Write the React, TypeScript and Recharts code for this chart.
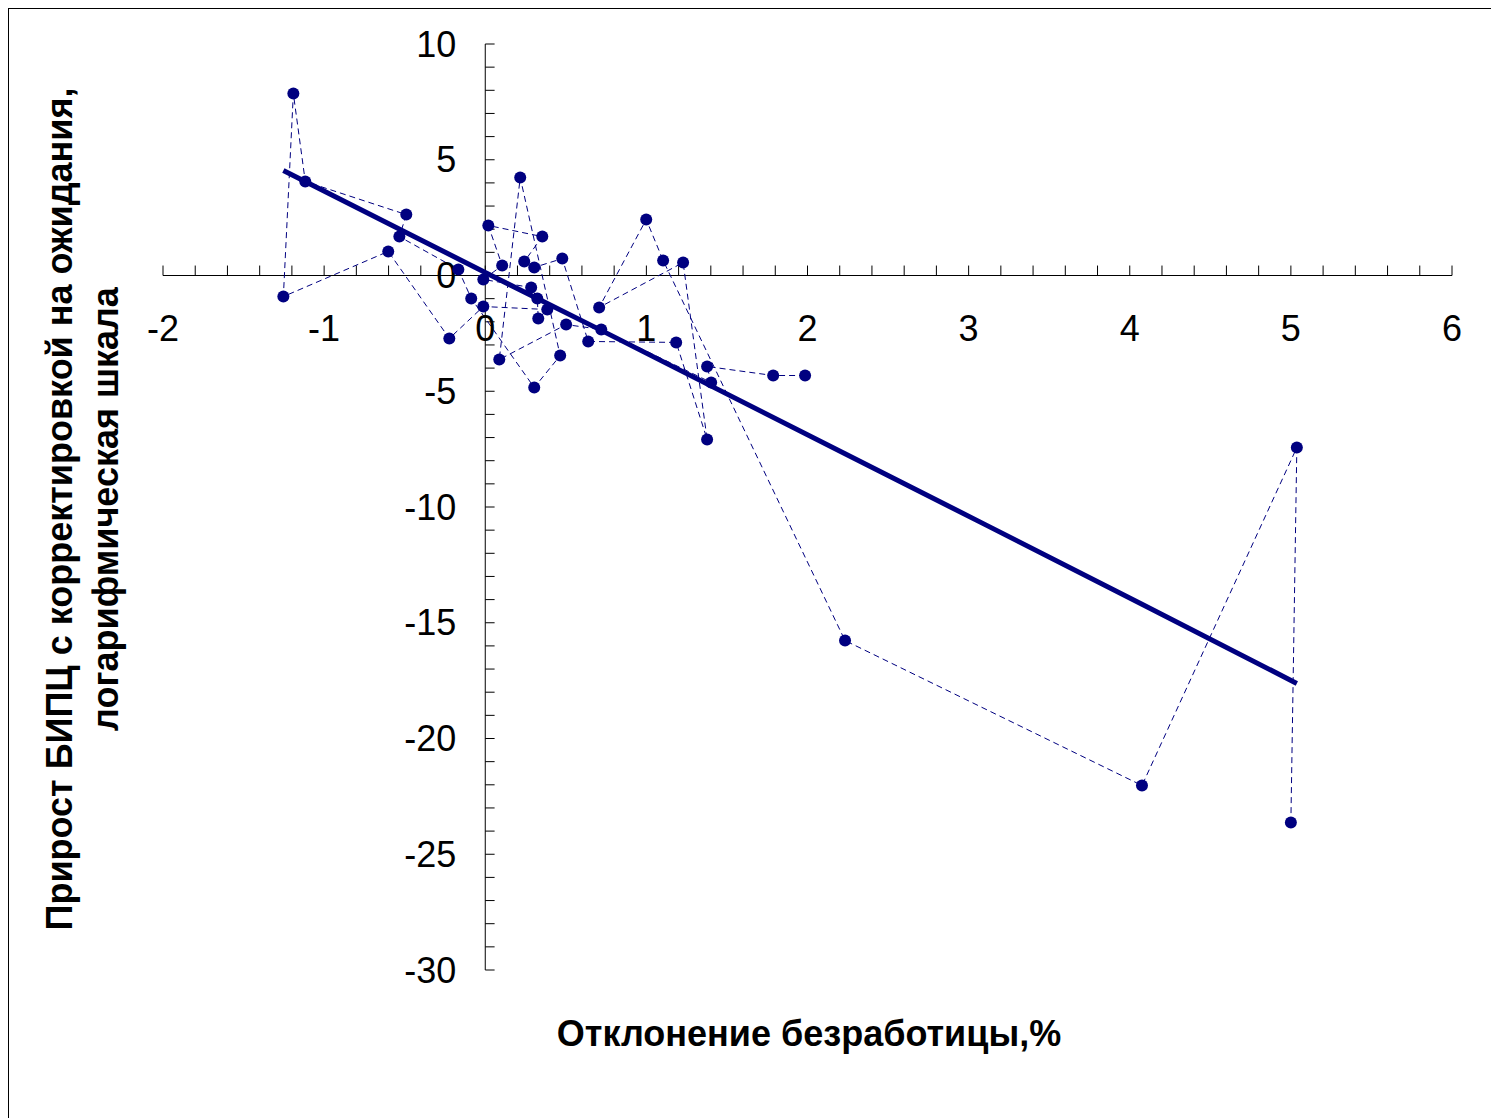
import React from 'react';
import { LineChart, Line, XAxis, YAxis, ReferenceLine, ReferenceDot } from 'recharts';

// Observed points in time order: [unemployment deviation, %; expectation-adjusted CPI growth]
const pathX = [1.985, 1.787, 1.377, 1.402, 0.72, 0.502, 0.087, 0.217, 0.465, 0.304, -0.087, -0.167, -0.533, -0.49, -1.117, -1.191, -1.253, -0.602, -0.223, -0.012, 0.385, 0.329, 0.323, 0.285, -0.012, 0.105, 0.019, 0.354, 0.242, 0.304, 0.478, 0.639, 1.185, 1.377, 1.228, 0.707, 0.999, 1.104, 2.233, 4.076, 5.037, 5.0];
const pathY = [-4.32, -4.32, -3.93, -4.62, -2.33, -2.12, -3.63, 4.23, -3.46, -4.84, -0.99, 0.26, 1.68, 2.63, 4.06, 7.86, -0.91, 1.04, -2.72, -1.34, -1.47, -1.86, -0.99, -0.52, -0.17, 0.43, 2.16, 1.68, 0.6, 0.35, 0.73, -2.85, -2.89, -7.08, 0.56, -1.38, 2.42, 0.65, -15.77, -22.03, -7.43, -23.63];

// Fitted trend line
const fitX = [-1.253, 0.0, 0.72, 2.233, 3.1, 4.076, 5.037];
const fitY = [4.54, 0.13, -2.37, -7.7, -10.75, -14.2, -17.62];

const xTicks = [-2, -1, 0, 1, 2, 3, 4, 5, 6];
const yTicks = [10, 5, 0, -5, -10, -15, -20, -25, -30];
const xMinor = Array.from({ length: 41 }, (_, i) => Math.round((-2 + i * 0.2) * 10) / 10);
const yMinor = Array.from({ length: 41 }, (_, i) => 10 - i);

const xTitle = 'Отклонение безработицы,%';
const yTitle1 = 'Прирост БИПЦ  с корректировкой на ожидания,';
const yTitle2 = 'логарифмическая шкала';

const pathData = pathX.map((x, i) => ({ x, y: pathY[i] }));
const fitData = fitX.map((x, i) => ({ x, y: fitY[i] }));

const NAVY = '#000080';
const FONT = '"Liberation Sans", Arial, sans-serif';

export default function App() {
  return (
    <div style={{ position: 'relative', width: 1490, height: 1110, border: '1px solid #000', fontFamily: FONT }}>
      <LineChart width={1490} height={1110} margin={{ top: 35, left: 154, right: 47, bottom: 149 }}>
        <XAxis type="number" dataKey="x" domain={[-2, 6]} hide allowDataOverflow />
        <YAxis type="number" dataKey="y" domain={[-30, 10]} hide allowDataOverflow />
        <ReferenceLine y={0} stroke="#000" strokeWidth={1} />
        <ReferenceLine x={0} stroke="#000" strokeWidth={1} />
        {xMinor.map((v) => (
          <ReferenceLine key={'xm' + v} segment={[{ x: v, y: 0 }, { x: v, y: 0.43 }]} stroke="#000" strokeWidth={1} />
        ))}
        {yMinor.map((v) => (
          <ReferenceLine key={'ym' + v} segment={[{ x: 0, y: v }, { x: 0.058, y: v }]} stroke="#000" strokeWidth={1} />
        ))}
        {xTicks.map((v) => (
          <ReferenceDot key={'xt' + v} x={v} y={0} r={0}
            shape={(p: any) => (
              <text x={p.cx} y={p.cy + 53} textAnchor="middle" dominantBaseline="central" fontSize={36} fontFamily={FONT} fill="#000">{String(v)}</text>
            )} />
        ))}
        {yTicks.map((v) => (
          <ReferenceDot key={'yt' + v} x={0} y={v} r={0}
            shape={(p: any) => (
              <text x={p.cx - 29} y={p.cy} textAnchor="end" dominantBaseline="central" fontSize={36} fontFamily={FONT} fill="#000">{String(v)}</text>
            )} />
        ))}
        <Line data={pathData} dataKey="y" type="linear" stroke={NAVY} strokeWidth={1} strokeDasharray="6 4"
          dot={{ r: 6, fill: NAVY, stroke: NAVY, strokeWidth: 0 }} isAnimationActive={false} />
        <Line data={fitData} dataKey="y" type="linear" stroke={NAVY} strokeWidth={5} dot={false} isAnimationActive={false} />
      </LineChart>
      <svg width={1490} height={1110} style={{ position: 'absolute', left: 0, top: 0, pointerEvents: 'none' }}>
        <text x={800} y={1024} textAnchor="middle" dominantBaseline="central" fontSize={36} fontWeight="bold" fontFamily={FONT} fill="#000">{xTitle}</text>
        <text transform="translate(50,500) rotate(-90)" textAnchor="middle" dominantBaseline="central" fontSize={36} fontWeight="bold" fontFamily={FONT} fill="#000">{yTitle1}</text>
        <text transform="translate(96,500) rotate(-90)" textAnchor="middle" dominantBaseline="central" fontSize={36} fontWeight="bold" fontFamily={FONT} fill="#000">{yTitle2}</text>
      </svg>
    </div>
  );
}
